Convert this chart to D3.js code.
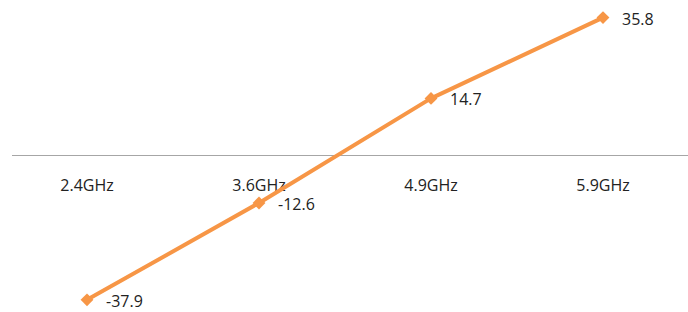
<!DOCTYPE html>
<html>
<head>
<meta charset="utf-8">
<script src="https://cdn.jsdelivr.net/npm/d3@7"></script>
<style>
  body { margin: 0; background: #fff; }
  svg text { font-family: "Open Sans", "DejaVu Sans", sans-serif; fill: #222; }
</style>
</head>
<body>
<div id="chart"></div>
<script>
var categories = ['2.4GHz', '3.6GHz', '4.9GHz', '5.9GHz'];
var values = [-37.9, -12.6, 14.7, 35.8];
var yDomain = [-40, 40];

var w = 688;
var h = 312;
var color = '#F79646';

var svg = d3.select('#chart')
            .append('svg')
            .attr('width', w)
            .attr('height', h);

var xScale = d3.scaleBand()
               .domain(categories)
               .range([1, 689]);

var yScale = d3.scaleLinear()
               .domain(yDomain)
               .range([307.9, 1.5]);

// zero line with category labels under it
var xAxis = d3.axisBottom(xScale).tickSize(0).tickPadding(25);
var gx = svg.append('g')
            .attr('transform', 'translate(0,' + yScale(0) + ')')
            .call(xAxis);
gx.select('.domain').remove();
gx.selectAll('text')
  .style('font-size', '16px')
  .attr('fill', '#222');

svg.append('line')
   .attr('x1', 12)
   .attr('x2', 688)
   .attr('y1', Math.round(yScale(0)) + 0.5)
   .attr('y2', Math.round(yScale(0)) + 0.5)
   .attr('stroke', '#a6a6a6')
   .attr('stroke-width', 1.2);

var data = categories.map(function(c, i) { return {cat: c, val: values[i]}; });
var cx = function(d) { return xScale(d.cat) + xScale.bandwidth() / 2; };

var line = d3.line()
             .x(cx)
             .y(function(d) { return yScale(d.val); });

svg.append('path')
   .datum(data)
   .attr('fill', 'none')
   .attr('stroke', color)
   .attr('stroke-width', 4)
   .attr('stroke-linejoin', 'round')
   .attr('d', line);

svg.selectAll('.marker')
   .data(data)
   .enter()
   .append('path')
   .attr('class', 'marker')
   .attr('d', d3.symbol().type(d3.symbolDiamond2).size(105))
   .attr('transform', function(d) { return 'translate(' + cx(d) + ',' + yScale(d.val) + ')'; })
   .attr('fill', color);

svg.selectAll('.label')
   .data(data)
   .enter()
   .append('text')
   .attr('class', 'label')
   .attr('x', function(d) { return cx(d) + 19; })
   .attr('y', function(d) { return yScale(d.val) + 7; })
   .style('font-size', '16px')
   .text(function(d) { return d.val; });
</script>
</body>
</html>
